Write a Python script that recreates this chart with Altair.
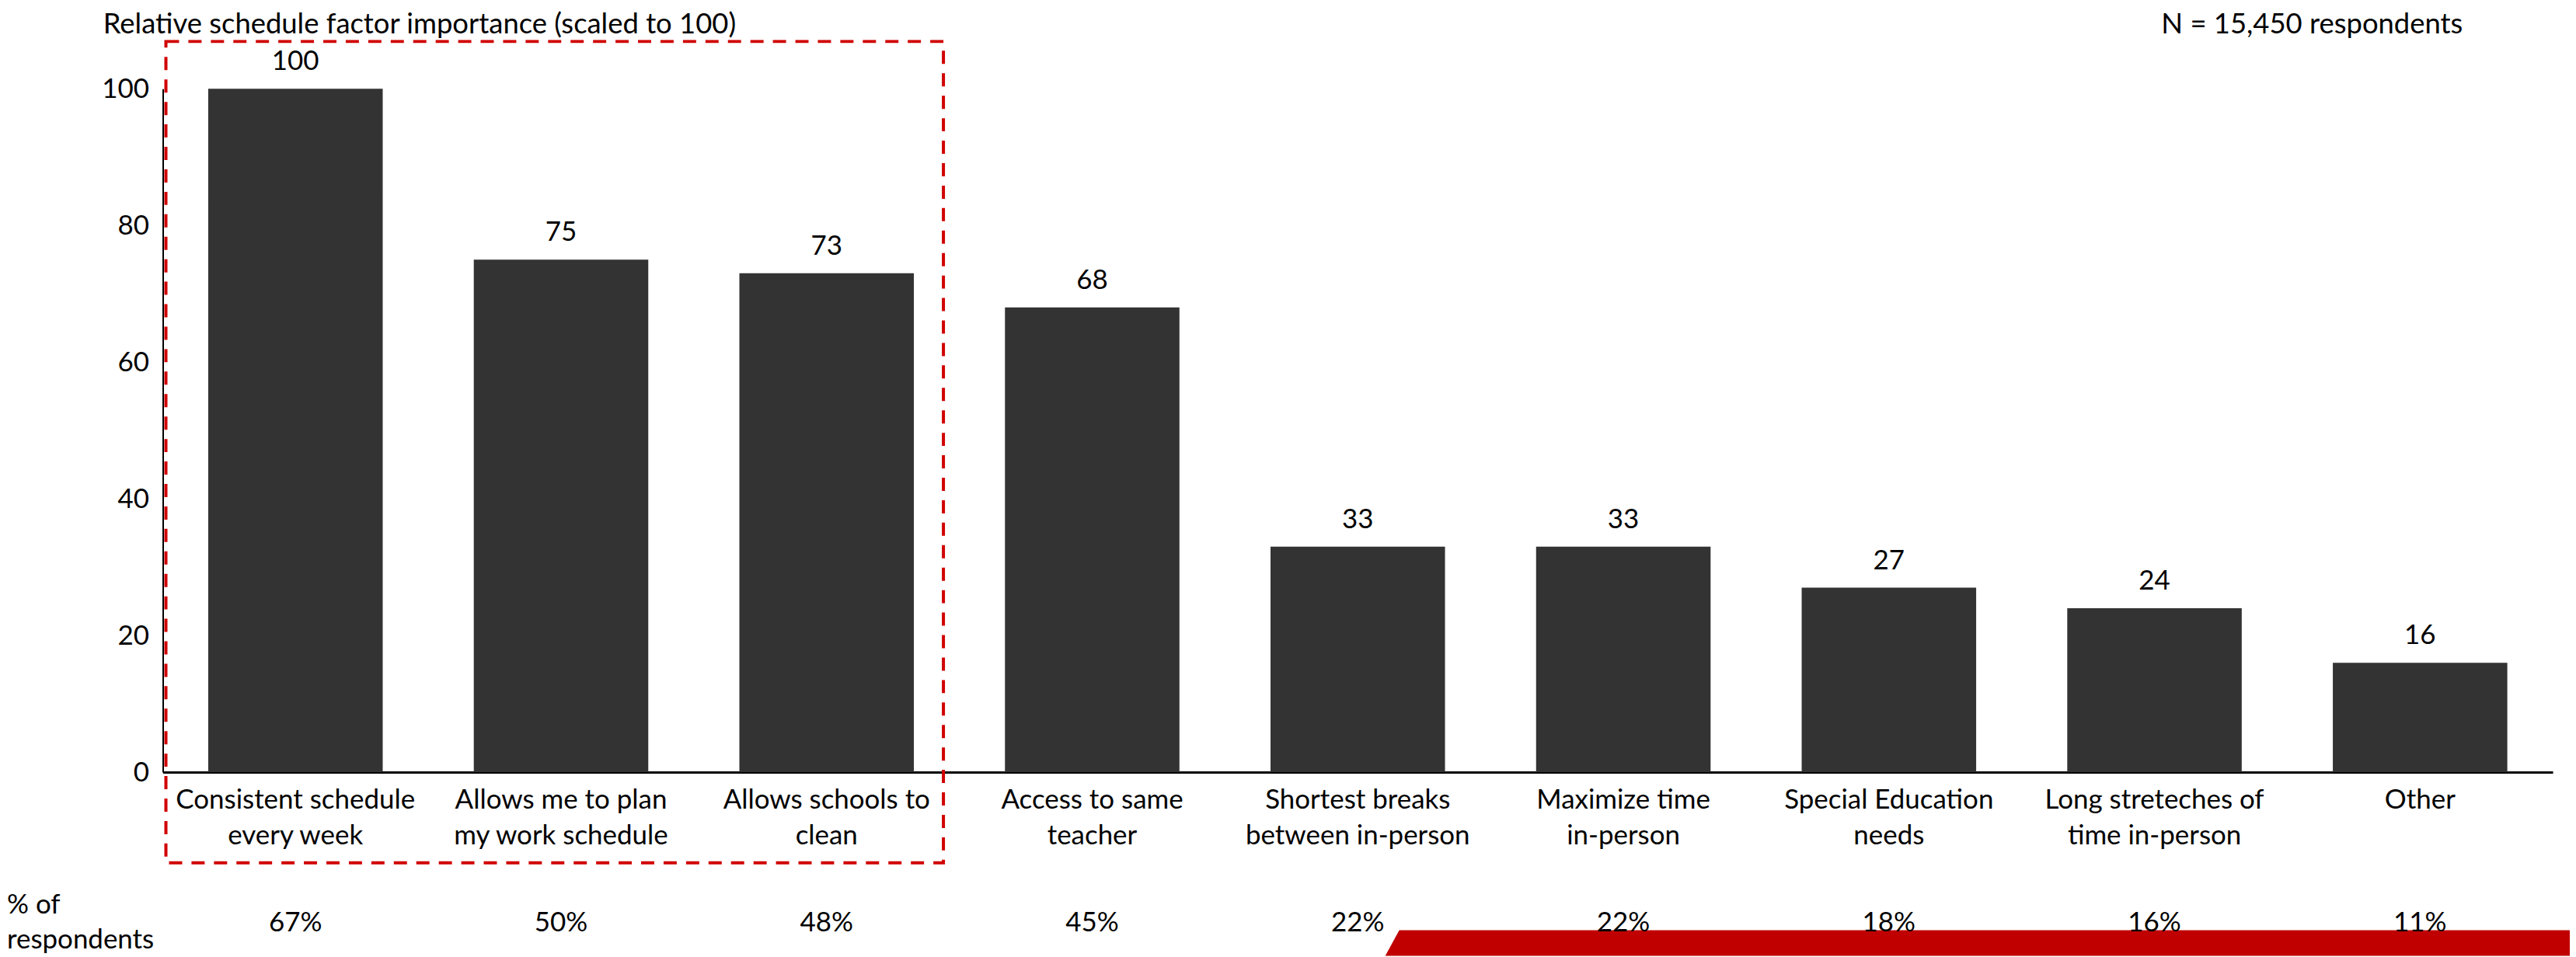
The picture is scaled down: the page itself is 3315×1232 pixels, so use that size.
import altair as alt
import pandas as pd

# ---- data ----
categories = [
    "Consistent schedule|every week",
    "Allows me to plan|my work schedule",
    "Allows schools to|clean",
    "Access to same|teacher",
    "Shortest breaks|between in-person",
    "Maximize time|in-person",
    "Special Education|needs",
    "Long streteches of|time in-person",
    "Other",
]
importance = [100, 75, 73, 68, 33, 33, 27, 24, 16]
pct_respondents = ["67%", "50%", "48%", "45%", "22%", "22%", "18%", "16%", "11%"]
y_ticks = [0, 20, 40, 60, 80, 100]

title_text = "Relative schedule factor importance (scaled to 100)"
n_text = "N = 15,450 respondents"
row_label = ["% of", "respondents"]

FONT = "Lato"
FS = 35
FS_T = 36.5
W, H = 3083, 882

df = pd.DataFrame({"cat": categories, "val": importance, "pct": pct_respondents})
one = pd.DataFrame({"k": [0]})

xscale = alt.Scale(paddingInner=0.343, paddingOuter=0.171)
yscale = alt.Scale(domain=[0, 100], nice=False)

xaxis = alt.Axis(
    title=None,
    labelAngle=0,
    labelExpr="split(datum.label, '|')",
    labelFont=FONT,
    labelFontSize=FS,
    labelColor="black",
    labelLineHeight=46,
    labelPadding=19,
    ticks=False,
    tickSize=0,
    grid=False,
    domainColor="black",
    domainWidth=3,
    labelOverlap=False,
    labelLimit=0,
)
yaxis = alt.Axis(
    title=None,
    values=y_ticks,
    grid=False,
    ticks=False,
    tickSize=0,
    labelPadding=18,
    labelFont=FONT,
    labelFontSize=FS,
    labelColor="black",
    domainColor="black",
    domainWidth=2,
)

X = alt.X("cat:N", sort=categories, scale=xscale, axis=xaxis)
Y = alt.Y("val:Q", scale=yscale, axis=yaxis)

bars = alt.Chart(df).mark_bar(color="#333333").encode(x=X, y=Y)

vals = alt.Chart(df).mark_text(
    font=FONT, fontSize=FS, color="black", baseline="alphabetic", dy=-24
).encode(x=X, y=Y, text="val:Q")

pct = alt.Chart(df).mark_text(
    font=FONT, fontSize=FS, color="black", baseline="alphabetic"
).encode(x=X, y=alt.value(1087), text="pct:N")

band = alt.Chart(one).mark_point(
    filled=True,
    opacity=1,
    color="#C00000",
    strokeWidth=0,
    shape="M -0.9764 -0.0216 L 1 -0.0216 L 1 0.0216 L -1 0.0216 Z",
    size=2334784,
).encode(x=alt.value(2341), y=alt.value(1102.5))

rowlab = alt.Chart(one).mark_text(
    font=FONT, fontSize=FS, color="black", align="left", baseline="alphabetic",
    lineHeight=45, text=row_label,
).encode(x=alt.value(-201), y=alt.value(1064))

ttl = alt.Chart(one).mark_text(
    font=FONT, fontSize=FS_T, color="black", align="left", baseline="alphabetic",
    text=title_text,
).encode(x=alt.value(-77), y=alt.value(-71))

ntxt = alt.Chart(one).mark_text(
    font=FONT, fontSize=FS_T, color="black", align="right", baseline="alphabetic",
    text=n_text,
).encode(x=alt.value(2967), y=alt.value(-71))

box = alt.Chart(one).mark_rect(
    fillOpacity=0, stroke="#D00000", strokeWidth=4, strokeDash=[17, 12]
).encode(x=alt.value(4), x2=alt.value(1007), y=alt.value(-61), y2=alt.value(999))

chart = alt.layer(band, bars, vals, pct, rowlab, ttl, ntxt, box).properties(
    width=W,
    height=H,
    background="white",
    autosize=alt.AutoSizeParams(type="none"),
    padding={"left": 202, "top": 105, "right": 22, "bottom": 237},
).configure_view(strokeWidth=0, stroke="transparent").configure_axis(grid=False)

chart.save("out.html", embed_options={"renderer": "svg", "actions": False})
